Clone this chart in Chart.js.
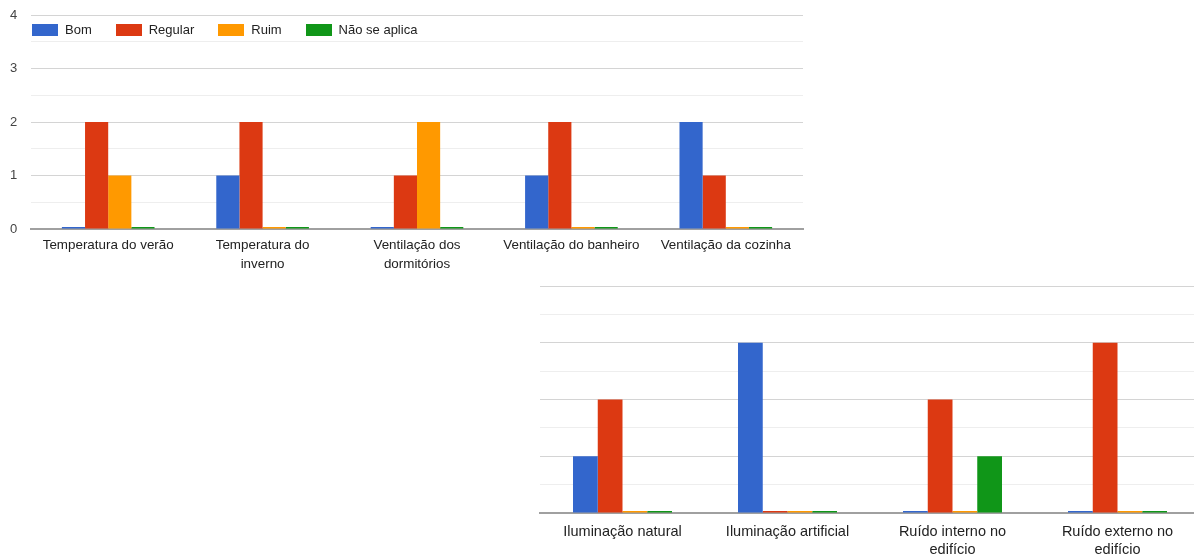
<!DOCTYPE html>
<html>
<head>
<meta charset="utf-8">
<script src="https://cdn.jsdelivr.net/npm/chart.js@4/dist/chart.umd.min.js"></script>
<style>
    html, body { margin: 0; padding: 0; background: #fff; width: 1194px; height: 556px; overflow: hidden; }
    .wrap { position: absolute; }
    #topWrap { left: 0; top: 0; width: 820px; height: 280px; }
    #bottomWrap { left: 535px; top: 280px; width: 665px; height: 276px; }
    #legend { position: absolute; left: 32px; top: 22px; display: flex; align-items: center;
              font: 13px "Liberation Sans", Arial, sans-serif; color: #222; }
    #legend .item { display: flex; align-items: center; margin-right: 24px; }
    #legend .swatch { width: 26px; height: 12px; margin-right: 7px; }
</style>
</head>
<body>
<div class="wrap" id="topWrap"><canvas id="topChart" width="820" height="280"></canvas></div>
<div class="wrap" id="bottomWrap"><canvas id="bottomChart" width="665" height="276"></canvas></div>
<div id="legend"></div>
<script>
const seriesNames = ['Bom', 'Regular', 'Ruim', 'Não se aplica'];
const seriesColors = ['#3366cc', '#dc3912', '#ff9900', '#109618'];

const topCategories = ['Temperatura do verão', ['Temperatura do', 'inverno'], ['Ventilação dos', 'dormitórios'], 'Ventilação do banheiro', 'Ventilação da cozinha'];
const topBom = [0, 1, 0, 1, 2];
const topRegular = [2, 2, 1, 2, 1];
const topRuim = [1, 0, 2, 0, 0];
const topNaoSeAplica = [0, 0, 0, 0, 0];

const bottomCategories = ['Iluminação natural', 'Iluminação artificial', ['Ruído interno no', 'edifício'], ['Ruído externo no', 'edifício']];
const bottomBom = [1, 3, 0, 0];
const bottomRegular = [2, 0, 2, 3];
const bottomRuim = [0, 0, 0, 0];
const bottomNaoSeAplica = [0, 0, 1, 0];

const yTickLabels = [0, 1, 2, 3, 4];

const fontFamily = '"Liberation Sans", Arial, sans-serif';

// html legend sitting inside the top chart, like the original
const legendDiv = document.getElementById('legend');
seriesNames.forEach((name, i) => {
    const item = document.createElement('div');
    item.className = 'item';
    item.innerHTML = '<span class="swatch" style="background:' + seriesColors[i] + '"></span><span>' + name + '</span>';
    legendDiv.appendChild(item);
});

function gridColor(ctx) {
    if (!ctx.tick) return '#e0e0e0';
    if (ctx.tick.value === 0) return '#999';
    return yTickLabels.includes(ctx.tick.value) ? '#d4d4d4' : '#eeeeee';
}

function makeChart(id, categories, values, cfg) {
    const ctx = document.getElementById(id).getContext('2d');
    return new Chart(ctx, {
        type: 'bar',
        data: {
            labels: categories,
            datasets: values.map((v, i) => ({
                label: seriesNames[i],
                data: v,
                backgroundColor: seriesColors[i],
                borderWidth: 0,
                minBarLength: 2,
                categoryPercentage: 0.6,
                barPercentage: 1.0
            }))
        },
        options: {
            responsive: false,
            animation: false,
            devicePixelRatio: 1,
            layout: { padding: cfg.padding },
            plugins: { legend: { display: false }, tooltip: { enabled: false } },
            scales: {
                x: {
                    grid: { display: false, drawTicks: false },
                    border: { display: true, color: '#a0a0a0', width: 2 },
                    ticks: {
                        color: '#222',
                        font: { family: fontFamily, size: cfg.xFont, lineHeight: cfg.lineHeight },
                        padding: cfg.xPad,
                        maxRotation: 0,
                        autoSkip: false
                    },
                    afterFit: (scale) => { scale.height = cfg.xHeight; }
                },
                y: {
                    min: 0,
                    max: 4,
                    border: { display: false },
                    grid: { color: gridColor, drawTicks: false },
                    ticks: {
                        display: cfg.showY,
                        stepSize: 0.5,
                        color: '#444',
                        padding: 0,
                        crossAlign: 'far',
                        font: { family: fontFamily, size: 13 },
                        callback: (v) => yTickLabels.includes(v) ? v : ''
                    },
                    afterFit: (scale) => { scale.width = cfg.yWidth; }
                }
            }
        }
    });
}

makeChart('topChart', topCategories, [topBom, topRegular, topRuim, topNaoSeAplica], {
    padding: { top: 15, right: 17, left: 10, bottom: 0 },
    xFont: 13.4, lineHeight: 1.4, xPad: 7, xHeight: 51, yWidth: 21, showY: true
});

makeChart('bottomChart', bottomCategories, [bottomBom, bottomRegular, bottomRuim, bottomNaoSeAplica], {
    padding: { top: 6, right: 0, left: 5, bottom: 0 },
    xFont: 14.5, lineHeight: 1.25, xPad: 10, xHeight: 43, yWidth: 0, showY: false
});
</script>
</body>
</html>
